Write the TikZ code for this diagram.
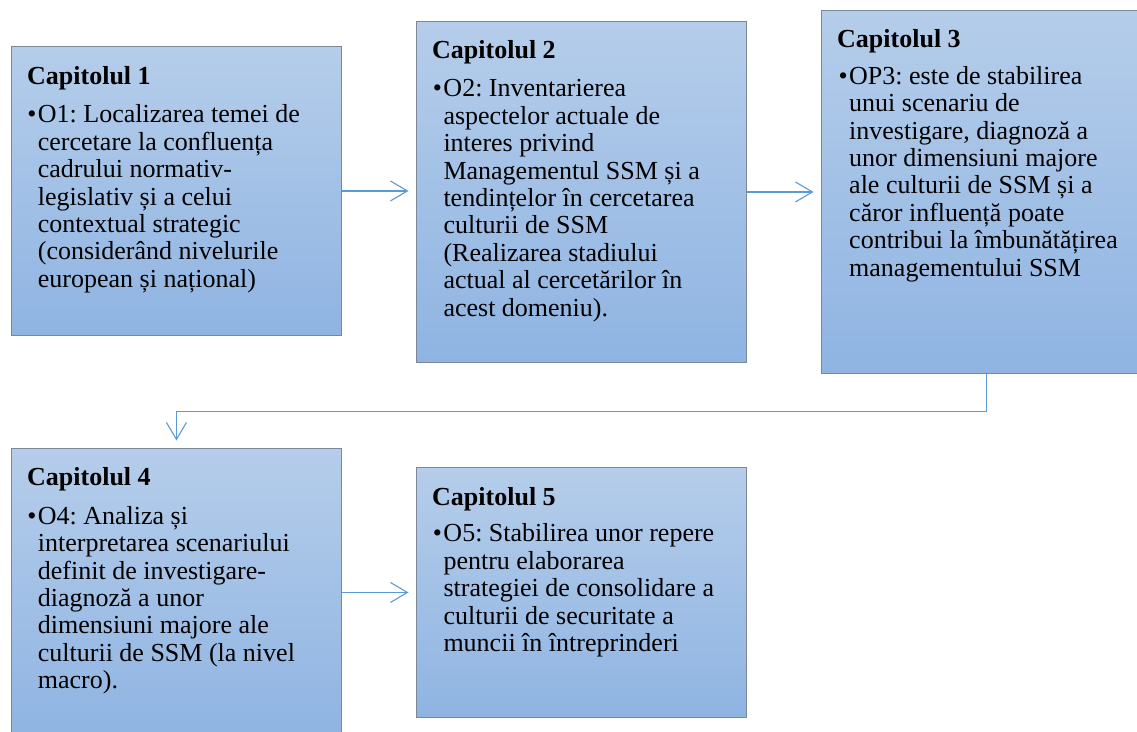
\documentclass[tikz,border=0pt]{standalone}
\usepackage{fontspec}
\setmainfont{Liberation Serif}
\usetikzlibrary{arrows.meta}
\definecolor{boxtop}{RGB}{181,205,234}
\definecolor{boxbot}{RGB}{143,180,226}
\definecolor{boxline}{RGB}{125,135,150}
\definecolor{arrowc}{RGB}{91,155,213}
\newcommand{\bul}{\rule{0pt}{20pt}\llap{\textbullet\hspace{1.5pt}}}
\frenchspacing
\begin{document}
\begin{tikzpicture}[x=1pt,y=-1pt,
  chapbox/.style={draw=boxline, line width=0.9pt, top color=boxtop, bottom color=boxbot,
    minimum width=330pt, inner sep=0pt, anchor=north west},
  chaptitle/.style={anchor=base west, inner sep=0pt, font=\fontsize{26}{27.4}\selectfont\bfseries},
  chapbody/.style={anchor=north west, inner sep=0pt, align=left, font=\fontsize{26}{27.4}\selectfont\frenchspacing},
  flow/.style={draw=arrowc, line width=1.1pt, -{Straight Barb[length=17pt,width=20pt]}, shorten >=7.5pt}]
\clip (0,0) rectangle (1137,731);
\fill[white] (0,0) rectangle (1137,731);
% boxes
\node[chapbox, minimum height=289pt] (c1) at (11,46) {};
\node[chapbox, minimum height=341pt] (c2) at (416,21) {};
\node[chapbox, minimum height=363pt] (c3) at (821,10) {};
\node[chapbox, minimum height=288pt] (c4) at (11,448) {};
\node[chapbox, minimum height=250pt] (c5) at (416,467) {};
% titles
\node[chaptitle] (t1) at (27,84) {Capitolul 1};
\node[chaptitle] (t2) at (432,58.3) {Capitolul 2};
\node[chaptitle] (t3) at (837,47.3) {Capitolul 3};
\node[chaptitle] (t4) at (27,485) {Capitolul 4};
\node[chaptitle] (t5) at (432,505.7) {Capitolul 5};
% bodies
\node[chapbody] (b1) at (37.7,102.7) {\bul O1: Localizarea temei de\\
cercetare la confluența\\
cadrului normativ-\\
legislativ și a celui\\
contextual strategic\\
(considerând nivelurile\\
european și național)};
\node[chapbody] (b2) at (443.3,76.7) {\bul O2: Inventarierea\\
aspectelor actuale de\\
interes privind\\
Managementul SSM și a\\
tendințelor în cercetarea\\
culturii de SSM\\
(Realizarea stadiului\\
actual al cercetărilor în\\
acest domeniu).};
\node[chapbody] (b3) at (849,64) {\bul OP3: este de stabilirea\\
unui scenariu de\\
investigare, diagnoză a\\
unor dimensiuni majore\\
ale culturii de SSM și a\\
căror influență poate\\
contribui la îmbunătățirea\\
managementului SSM};
\node[chapbody] (b4) at (37.7,504) {\bul O4: Analiza și\\
interpretarea scenariului\\
definit de investigare-\\
diagnoză a unor\\
dimensiuni majore ale\\
culturii de SSM (la nivel\\
macro).};
\node[chapbody] (b5) at (443.3,521.7) {\bul O5: Stabilirea unor repere\\
pentru elaborarea\\
strategiei de consolidare a\\
culturii de securitate a\\
muncii în întreprinderi};
% connectors
\draw[flow] (c1.east) -- (c1.east -| c2.west);
\draw[flow] (c2.east) -- (c2.east -| c3.west);
\draw[flow] (c3.south) -- ++(0,37.5) -| (c4.north);
\draw[flow] (c4.east) -- (c4.east -| c5.west);
\end{tikzpicture}
\end{document}
